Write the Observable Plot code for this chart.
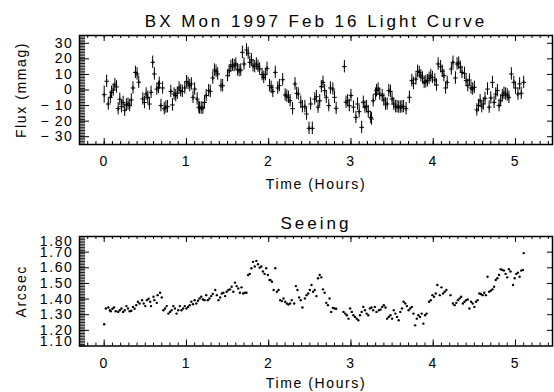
<!DOCTYPE html>
<html>
<head>
<meta charset="utf-8">
<script src="https://cdn.jsdelivr.net/npm/d3@7"></script>
<script src="https://cdn.jsdelivr.net/npm/@observablehq/plot@0.6"></script>
<style>
  body { margin: 0; background: #fff; }
  #chart svg { display: block; }
  #chart svg text { font-family: "Liberation Sans", Arial, sans-serif; fill: #000; }
</style>
</head>
<body>
<div id="chart"></div>
<script>
// BX Mon, 1997 Feb 16: differential photometry [hours, flux (mmag), 1-sigma error]
const lightCurve = [
  [0.00,-3,5.5],[0.03,5.6,4],[0.05,-9,4],[0.075,-4.7,4],[0.09,-1.5,4],[0.11,0,4],
  [0.13,3.4,4],[0.15,2,4],[0.17,-12,4],[0.19,-6,4],[0.21,-10.7,4],[0.23,-8,4],
  [0.25,-13,4],[0.27,-9.6,4],[0.29,-9,4],[0.31,-10,4],[0.33,-6.4,4],[0.35,1.3,4],
  [0.38,11.3,4],[0.40,10.3,4],[0.42,5,4],[0.47,-5.8,4],[0.49,-8,4],[0.51,-2.6,4],
  [0.53,-4.7,4],[0.55,-9,4],[0.57,-1.5,4],[0.59,17.8,4],[0.61,10.3,4],[0.64,0.6,4],
  [0.66,1.7,4],[0.67,4.3,4],[0.69,-10,4],[0.71,1.3,4],[0.73,-12,4],[0.75,-11,4],
  [0.77,-10.7,4],[0.81,-0.9,4],[0.83,-9.6,4],[0.85,-2.6,4],[0.87,-3.6,4],[0.89,-2,4],
  [0.91,1.3,4],[0.93,-0.4,4],[0.95,-0.9,4],[0.98,1.3,4],[1.00,5.4,4],[1.02,4.3,4],
  [1.04,2.8,4],[1.06,3.9,4],[1.08,-4.7,4],[1.10,0.6,4],[1.13,-5.8,4],[1.15,-11,4],
  [1.16,-11.6,4],[1.18,-11.6,4],[1.20,-11.6,4],[1.22,-8,4],[1.24,-3.6,4],[1.27,-0.4,4],
  [1.29,-0.9,4],[1.32,7.7,4],[1.34,12.8,4],[1.36,12,4],[1.38,10.3,4],[1.42,2.8,4],
  [1.44,2.8,4],[1.50,9.2,4],[1.52,12.4,4],[1.54,15.2,4],[1.56,16,4],[1.58,15.6,4],
  [1.60,16.7,4],[1.62,13,4],[1.64,12.4,4],[1.66,12.8,4],[1.68,24.2,4],[1.70,16.7,4],
  [1.73,25.7,4],[1.75,23.6,4],[1.77,17.8,4],[1.79,19.3,4],[1.81,15.6,4],[1.83,15,4],
  [1.85,16.7,4],[1.87,15.2,4],[1.89,13.5,4],[1.92,9.9,4],[1.94,8.1,4],[1.96,9.9,4],
  [1.98,13.9,4],[2.01,2.8,4],[2.03,1.7,4],[2.05,-0.9,4],[2.08,11.3,4],[2.11,1.3,4],
  [2.13,2.8,4],[2.17,6.6,4],[2.20,-3.2,4],[2.22,-3.9,4],[2.24,-4.7,4],[2.26,-6.9,4],
  [2.29,-12,4],[2.32,3.9,4],[2.34,-2.1,4],[2.36,-2.6,4],[2.39,-7.9,4],[2.41,-10.7,4],
  [2.44,-10.7,4],[2.46,-15.4,4],[2.49,-24.6,4],[2.51,-9,4],[2.53,-24.6,4],[2.56,-5.8,4],
  [2.58,-4.3,4],[2.60,-11,4],[2.62,-6.9,4],[2.64,2.1,4],[2.66,4.9,4],[2.68,-0.4,4],
  [2.70,-4.7,4],[2.73,-10,4],[2.75,1.3,4],[2.78,0.6,4],[2.80,-4.7,4],[2.82,-11.8,4],
  [2.92,15,4],[2.94,-7.9,4],[2.96,-6.9,4],[2.98,-10,4],[3.00,-3.6,4],[3.03,-11,4],
  [3.06,-17.6,4],[3.08,-9,4],[3.10,-13.9,4],[3.13,-24,4],[3.15,-7.9,4],[3.17,-11,4],
  [3.19,-10.7,4],[3.21,-13.9,4],[3.24,-17.6,4],[3.25,-18.6,4],[3.27,-6.9,4],[3.30,-2.6,4],
  [3.31,-0.4,4],[3.33,0.6,4],[3.35,-2.6,4],[3.38,-3.6,4],[3.40,-6.4,4],[3.42,-9,4],
  [3.44,-9,4],[3.46,-0.4,4],[3.48,-0.9,4],[3.50,-5.8,4],[3.52,-9,4],[3.54,-10.7,4],
  [3.56,-10.7,4],[3.58,-11,4],[3.60,-11,4],[3.62,-10.7,4],[3.64,-10.7,4],[3.67,-12,4],
  [3.71,-4.7,4],[3.74,6,4],[3.76,4.3,4],[3.79,7,4],[3.81,12,4],[3.83,11.3,4],
  [3.85,9.2,4],[3.87,7.7,4],[3.89,4.9,4],[3.91,5.4,4],[3.93,6,4],[3.95,7.5,4],
  [3.97,9.2,4],[3.99,8.1,4],[4.02,6.4,4],[4.04,3.2,4],[4.06,16.7,4],[4.09,15,4],
  [4.11,12,4],[4.13,9.2,4],[4.15,1.3,4],[4.17,4.9,4],[4.22,13.5,4],[4.24,17.8,4],
  [4.27,7.7,4],[4.29,16.7,4],[4.31,17.3,4],[4.33,14.6,4],[4.35,11.3,4],[4.38,10.7,4],
  [4.40,6,4],[4.42,2.8,4],[4.44,6.4,4],[4.46,1.3,4],[4.48,0.6,4],[4.50,1.7,4],
  [4.53,-12.8,4],[4.55,-10,4],[4.57,-6.9,4],[4.59,-10.7,4],[4.61,-9,4],[4.63,-5.4,4],
  [4.66,0.6,4],[4.68,-11,4],[4.70,-5.1,4],[4.72,4.9,4],[4.74,-7.9,4],[4.76,-2.6,4],
  [4.78,-0.4,4],[4.80,-10,4],[4.82,-6.9,4],[4.84,-3.6,4],[4.86,-2.1,4],[4.88,-2.6,4],
  [4.90,-3.2,4],[4.92,-4.7,4],[4.95,10.3,4],[4.98,4.9,4],[5.00,1.3,4],[5.03,-2.6,4],
  [5.05,3.9,4],[5.07,-2.1,4],[5.10,4.9,4]
];

// Seeing (FWHM, arcsec) for the same frames [hours, arcsec]
const seeing = [
  [0.00,1.239],[0.02,1.340],[0.05,1.346],[0.07,1.329],[0.08,1.322],[0.10,1.338],[0.12,1.346],
  [0.14,1.322],[0.17,1.318],[0.19,1.329],[0.21,1.340],[0.23,1.318],[0.25,1.329],[0.27,1.355],
  [0.29,1.340],[0.31,1.322],[0.33,1.325],[0.35,1.350],[0.37,1.338],[0.39,1.361],[0.41,1.383],
  [0.43,1.372],[0.46,1.393],[0.48,1.372],[0.50,1.355],[0.52,1.393],[0.54,1.402],[0.56,1.383],
  [0.57,1.355],[0.60,1.415],[0.61,1.393],[0.64,1.376],[0.65,1.425],[0.68,1.440],[0.70,1.410],
  [0.72,1.329],[0.74,1.340],[0.76,1.355],[0.78,1.307],[0.80,1.318],[0.82,1.329],[0.84,1.355],
  [0.86,1.340],[0.88,1.307],[0.90,1.329],[0.92,1.355],[0.94,1.329],[0.96,1.340],[0.98,1.355],
  [1.00,1.340],[1.02,1.350],[1.04,1.361],[1.06,1.383],[1.08,1.367],[1.10,1.393],[1.12,1.372],
  [1.14,1.389],[1.16,1.404],[1.18,1.415],[1.20,1.398],[1.22,1.393],[1.24,1.425],[1.26,1.393],
  [1.28,1.404],[1.30,1.419],[1.32,1.432],[1.35,1.458],[1.37,1.425],[1.39,1.393],[1.41,1.410],
  [1.43,1.436],[1.45,1.440],[1.47,1.419],[1.49,1.447],[1.51,1.458],[1.53,1.462],[1.55,1.479],
  [1.57,1.447],[1.59,1.505],[1.61,1.483],[1.63,1.468],[1.65,1.440],[1.67,1.475],[1.69,1.436],
  [1.71,1.440],[1.73,1.440],[1.75,1.554],[1.77,1.561],[1.79,1.597],[1.81,1.638],[1.83,1.608],
  [1.85,1.644],[1.87,1.623],[1.89,1.601],[1.91,1.608],[1.93,1.576],[1.95,1.561],[1.97,1.597],
  [1.99,1.554],[2.01,1.522],[2.02,1.522],[2.04,1.511],[2.06,1.458],[2.08,1.597],[2.10,1.447],
  [2.12,1.458],[2.14,1.393],[2.16,1.387],[2.18,1.404],[2.20,1.383],[2.22,1.372],[2.24,1.365],
  [2.26,1.372],[2.28,1.393],[2.31,1.372],[2.33,1.483],[2.35,1.458],[2.37,1.410],[2.39,1.393],
  [2.41,1.346],[2.44,1.404],[2.46,1.425],[2.48,1.436],[2.50,1.458],[2.52,1.490],[2.54,1.447],
  [2.56,1.458],[2.58,1.419],[2.60,1.533],[2.62,1.554],[2.64,1.539],[2.66,1.462],[2.68,1.440],
  [2.70,1.376],[2.72,1.361],[2.74,1.404],[2.76,1.318],[2.78,1.344],[2.80,1.340],[2.82,1.338],
  [2.91,1.318],[2.93,1.307],[2.95,1.297],[2.97,1.275],[2.99,1.340],[3.01,1.318],[3.03,1.297],
  [3.05,1.286],[3.07,1.275],[3.09,1.265],[3.11,1.297],[3.13,1.318],[3.15,1.350],[3.17,1.329],
  [3.19,1.307],[3.21,1.297],[3.23,1.340],[3.25,1.346],[3.27,1.329],[3.29,1.350],[3.31,1.318],
  [3.34,1.329],[3.36,1.333],[3.38,1.350],[3.40,1.361],[3.42,1.346],[3.44,1.275],[3.46,1.286],
  [3.48,1.297],[3.50,1.275],[3.52,1.329],[3.54,1.307],[3.56,1.286],[3.58,1.265],[3.60,1.318],
  [3.62,1.340],[3.64,1.383],[3.66,1.372],[3.68,1.355],[3.70,1.329],[3.72,1.340],[3.74,1.350],
  [3.76,1.307],[3.78,1.232],[3.80,1.275],[3.82,1.297],[3.84,1.286],[3.86,1.307],[3.88,1.243],
  [3.90,1.297],[3.92,1.307],[3.95,1.383],[3.97,1.393],[3.99,1.425],[4.01,1.415],[4.03,1.436],
  [4.05,1.490],[4.08,1.425],[4.10,1.475],[4.12,1.436],[4.14,1.447],[4.16,1.458],[4.21,1.425],
  [4.24,1.372],[4.26,1.361],[4.28,1.376],[4.30,1.393],[4.32,1.404],[4.34,1.415],[4.36,1.372],
  [4.38,1.383],[4.40,1.393],[4.42,1.398],[4.44,1.340],[4.46,1.383],[4.48,1.372],[4.50,1.350],
  [4.52,1.383],[4.54,1.393],[4.56,1.436],[4.58,1.432],[4.60,1.425],[4.62,1.440],[4.64,1.425],
  [4.66,1.543],[4.68,1.447],[4.70,1.453],[4.72,1.462],[4.74,1.479],[4.76,1.522],[4.78,1.533],
  [4.80,1.554],[4.82,1.591],[4.84,1.586],[4.86,1.582],[4.88,1.561],[4.90,1.539],[4.92,1.591],
  [4.94,1.576],[4.97,1.490],[4.99,1.533],[5.01,1.561],[5.03,1.569],[5.05,1.543],[5.07,1.582],
  [5.09,1.586],[5.10,1.694]
];

// Axis ticks
const hourTicks = [0, 1, 2, 3, 4, 5];
const fluxTicks = [-30, -20, -10, 0, 10, 20, 30];
const arcsecTicks = [1.1, 1.2, 1.3, 1.4, 1.5, 1.6, 1.7, 1.8];

const W = 554, H = 196;
const mL = 79, mR = 2;
const fw = W - mL - mR;
const hourMinor = d3.range(-3, 55).map(i => i / 10);

// Inward-pointing ticks on all four sides of the frame
function frameTicks(fh, yMajor, yMinor) {
  return [
    Plot.tickY(yMinor, {y: d => d, insetRight: fw - 6, stroke: "#000", strokeWidth: 0.9}),
    Plot.tickY(yMajor, {y: d => d, insetRight: fw - 10, stroke: "#000"}),
    Plot.tickY(yMajor, {y: d => d, insetLeft: fw - 5, stroke: "#000"}),
    Plot.tickX(hourMinor, {x: d => d, insetTop: fh - 3, stroke: "#000"}),
    Plot.tickX(hourTicks, {x: d => d, insetTop: fh - 6, stroke: "#000"}),
    Plot.tickX(hourMinor, {x: d => d, insetBottom: fh - 3, stroke: "#000"}),
    Plot.tickX(hourTicks, {x: d => d, insetBottom: fh - 6, stroke: "#000"}),
    Plot.frame({stroke: "#000", strokeWidth: 1.5})
  ];
}

function texts(title, titleDy, ylabel, xTitleDy) {
  return [
    Plot.text([title], {frameAnchor: "top", lineAnchor: "middle", text: d => d, dy: titleDy, fontSize: 17}),
    Plot.text([ylabel], {frameAnchor: "left", textAnchor: "middle", lineAnchor: "middle", text: d => d, rotate: -90, dx: -58, fontSize: 14}),
    Plot.text(["Time (Hours)"], {frameAnchor: "bottom", lineAnchor: "middle", text: d => d, dy: xTitleDy, fontSize: 14})
  ];
}

const minusFormat = d => d < 0 ? "\u2212\u2009" + (-d) : String(d);

// Light curve panel
const mT1 = 35, mB1 = 52, fh1 = H - mT1 - mB1;
const fluxMinor = d3.range(-35, 36, 1);
const lightCurvePanel = Plot.plot({
  width: W, height: H,
  marginLeft: mL, marginRight: mR, marginTop: mT1, marginBottom: mB1,
  style: {fontFamily: "Liberation Sans, Arial, sans-serif", fontSize: "14px", background: "#fff"},
  x: {domain: [-0.3, 5.45], axis: null},
  y: {domain: [-35, 35], axis: null},
  marks: [
    Plot.ruleX(lightCurve, {x: d => d[0], y1: d => d[1] - d[2], y2: d => d[1] + d[2], stroke: "#000", strokeWidth: 1}),
    Plot.dot(lightCurve, {x: d => d[0], y: d => d[1], symbol: "plus", r: 1.6, stroke: "#000", strokeWidth: 1}),
    ...frameTicks(fh1, fluxTicks, fluxMinor),
    Plot.axisY(fluxTicks, {anchor: "left", tickSize: 0, tickPadding: 6, fontSize: 14, tickFormat: minusFormat, label: null}),
    Plot.axisX(hourTicks, {anchor: "bottom", tickSize: 0, tickPadding: 12, fontSize: 14, label: null}),
    ...texts("BX Mon 1997 Feb 16 Light Curve", -14, "Flux (mmag)", 40)
  ]
});

// Seeing panel
const mT2 = 40, mB2 = 46.5, fh2 = H - mT2 - mB2;
const arcsecMinor = d3.range(110, 181, 1).map(v => v / 100);
const fmt2 = d3.format(".2f");
const seeingPanel = Plot.plot({
  width: W, height: H,
  marginLeft: mL, marginRight: mR, marginTop: mT2, marginBottom: mB2,
  style: {fontFamily: "Liberation Sans, Arial, sans-serif", fontSize: "14px", background: "#fff"},
  x: {domain: [-0.3, 5.45], axis: null},
  y: {domain: [1.1, 1.8], axis: null},
  marks: [
    Plot.dot(seeing, {x: d => d[0], y: d => d[1], r: 1.2, fill: "#000", stroke: null}),
    ...frameTicks(fh2, arcsecTicks.slice(1, -1), arcsecMinor),
    Plot.axisY(arcsecTicks.slice(1, -1), {anchor: "left", tickSize: 0, tickPadding: 6, fontSize: 14, tickFormat: fmt2, label: null}),
    // end labels sit just inside the frame, overlapping their neighbours
    Plot.axisY(arcsecTicks.slice(-1), {anchor: "left", tickSize: 0, tickPadding: 6, fontSize: 14, dy: 5, tickFormat: fmt2, label: null}),
    Plot.axisY(arcsecTicks.slice(0, 1), {anchor: "left", tickSize: 0, tickPadding: 6, fontSize: 14, dy: -4, tickFormat: fmt2, label: null}),
    Plot.axisX(hourTicks, {anchor: "bottom", tickSize: 0, tickPadding: 12.5, fontSize: 14, label: null}),
    ...texts("Seeing", -13, "Arcsec", 38)
  ]
});

document.getElementById("chart").append(lightCurvePanel, seeingPanel);

// Wide letter spacing of the plotting font: titles more than axis text
for (const t of document.querySelectorAll("#chart svg text")) {
  const fs = parseFloat(getComputedStyle(t).fontSize);
  t.style.letterSpacing = fs >= 16 ? "3px" : "1.6px";
}
</script>
</body>
</html>
